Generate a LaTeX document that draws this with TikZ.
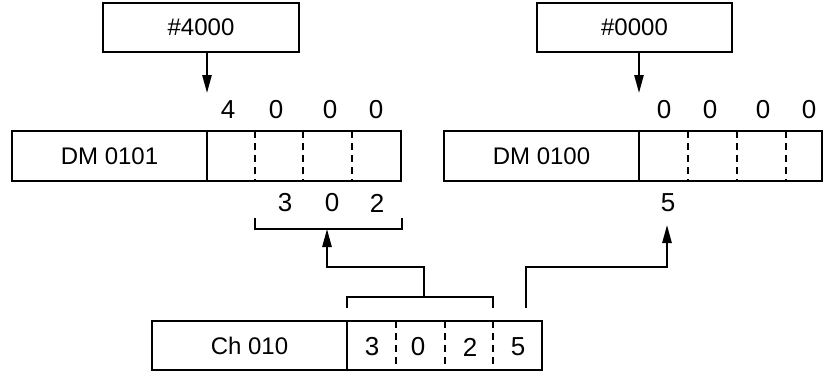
\documentclass[tikz,border=0pt]{standalone}
\usepackage{fontspec}
\setmainfont{Liberation Sans}
\usetikzlibrary{arrows.meta, positioning, calc}
\tikzset{
  x=0.5pt, y=-0.5pt,
  >={Triangle[length=9pt, width=4.6pt]},
  line/.style={line width=1pt, draw=black},
  flow/.style={line, ->},
  regbox/.style={rectangle, draw, line width=1pt, outer sep=0pt, inner sep=0pt,
                 minimum height=25pt, font=\fontsize{12}{14}\selectfont},
  divider/.style={line, dash pattern=on 3.5pt off 2.5pt},
  digit/.style={inner sep=0pt, font=\fontsize{13}{15}\selectfont},
}

\begin{document}
\begin{tikzpicture}
  \useasboundingbox (0,0) rectangle (836,375);
  % constants
  \node[regbox, minimum width=98pt, minimum height=24.5pt] (c4000) at (201,27.5) {\#4000};
  \node[regbox, minimum width=97.5pt, minimum height=24.5pt] (c0000) at (634.5,27.5) {\#0000};
  % DM words
  \node[regbox, minimum width=97.5pt] (dm101) at (109.5,156) {DM 0101};
  \node[regbox, minimum width=97pt, right=0pt of dm101] (dm101d) {};
  \node[regbox, minimum width=97.5pt] (dm100) at (541.5,156) {DM 0100};
  \node[regbox, minimum width=91.5pt, right=0pt of dm100] (dm100d) {};
  % source channel
  \node[regbox, minimum width=97.5pt, minimum height=24.5pt] (ch10) at (249.5,345.5) {Ch 010};
  \node[regbox, minimum width=97.5pt, minimum height=24.5pt, right=0pt of ch10] (ch10d) {};
  \foreach \x in {255,303,352}
    \draw[divider] (\x,0 |- dm101d.north) -- (\x,0 |- dm101d.south);
  \foreach \x in {688,737,786}
    \draw[divider] (\x,0 |- dm100d.north) -- (\x,0 |- dm100d.south);
  \foreach \x in {396,445,493}
    \draw[divider] (\x,0 |- ch10d.north) -- (\x,0 |- ch10d.south);
  % digits
  \foreach \x/\d [count=\i] in {228/4,276/0,330/0,376/0}
    \node[digit] (hi\i) at (\x,110) {\d};
  \foreach \x/\d [count=\i] in {664/0,710/0,763/0,809/0}
    \node[digit] (lo\i) at (\x,110) {\d};
  \foreach \x/\d [count=\i] in {285/3,332/0,377/2}
    \node[digit] (sh\i) at (\x,203) {\d};
  \node[digit] (sl) at (668,203) {5};
  \foreach \x/\d [count=\i] in {372/3,418/0,470/2,518/5}
    \node[digit] (ch\i) at (\x,347) {\d};
  % connectors
  \coordinate (t4000) at (207,93);
  \coordinate (t0000) at (639,93);
  \draw[flow] (c4000.south -| dm101d.west) -- (t4000);
  \draw[flow] (c0000.south -| dm100d.west) -- (t0000);
  \coordinate (b302l) at (255,218);
  \coordinate (b302r) at (402,218);
  \coordinate (b302m) at (327,229);
  \draw[line] (b302l) -- ++(0,11) -| (b302r);
  \coordinate (bchl) at (347,308);
  \coordinate (bchr) at (493,308);
  \coordinate (bchm) at (424,297);
  \draw[line] (bchl) -- ++(0,-11) -| (bchr);
  \draw[flow] (bchm) -- ++(0,-30) -| (b302m);
  \coordinate (ch5) at (526,308);
  \coordinate (t5) at (667,225);
  \draw[flow] (ch5) -- ++(0,-41) -| (t5);
\end{tikzpicture}
\end{document}
